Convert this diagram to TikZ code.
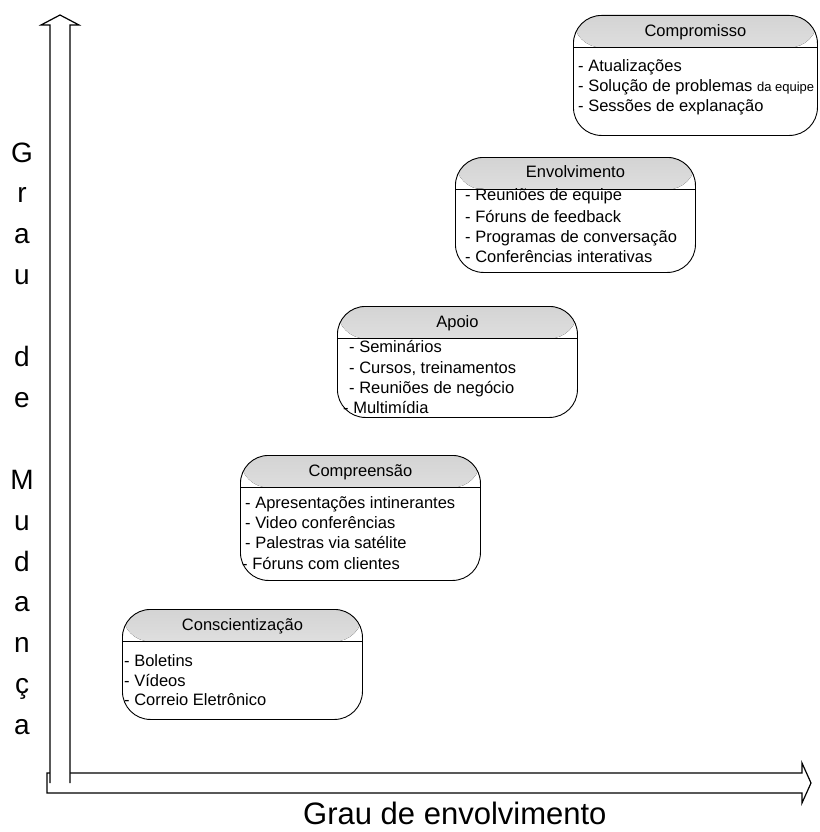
\documentclass[tikz,border=0pt]{standalone}
\usepackage{fontspec}
\setmainfont{Liberation Sans}
\begin{document}
\begin{tikzpicture}[x=1pt,y=-1pt,
  box/.style={draw, line width=0.9pt, rounded corners=28pt, minimum width=240pt, anchor=north west, inner sep=0pt,
    path picture={\fill[top color=black!17, bottom color=black!2] (path picture bounding box.north west) rectangle ([yshift=-32pt]path picture bounding box.north east);
      \draw[line width=0.9pt] ([yshift=-32pt]path picture bounding box.north west) -- ([yshift=-32pt]path picture bounding box.north east);}},
  ttl/.style={font=\fontsize{16.5}{20}\selectfont, anchor=base, inner sep=0pt},
  itm/.style={font=\fontsize{16.5}{20}\selectfont, anchor=base west, inner sep=0pt},
  axisline/.style={line width=1.2pt},
  vl/.style={font=\fontsize{28}{28}\selectfont, anchor=base, inner sep=0pt}]
\useasboundingbox (0,0) rectangle (819,832);

% horizontal axis arrow
\draw[axisline, fill=white] (47,773) -- (802,773) -- (802,763) -- (811,783) -- (802,803) -- (802,793) -- (47,793) -- cycle;
% vertical axis arrow
\fill[white] (50,783) -- (50,25) -- (41,25) -- (60,15) -- (79,25) -- (70,25) -- (70,783) -- cycle;
\draw[axisline] (50,783) -- (50,25) -- (41,25) -- (60,15) -- (79,25) -- (70,25) -- (70,783);

% boxes
\node[box, minimum height=110pt] (b1) at (122,609) {};
\node[box, minimum height=125pt] (b2) at (240,455) {};
\node[box, minimum height=111pt] (b3) at (337,306) {};
\node[box, minimum height=115pt] (b4) at (455,157) {};
\node[box, minimum width=244pt, minimum height=120pt] (b5) at (573,15) {};

% titles
\node[ttl] (t1) at ([yshift=-21pt]b1.north) {Conscientização};
\node[ttl] (t2) at ([yshift=-21pt]b2.north) {Compreensão};
\node[ttl] (t3) at ([yshift=-21pt]b3.north) {Apoio};
\node[ttl] (t4) at ([yshift=-20pt]b4.north) {Envolvimento};
\node[ttl] (t5) at ([yshift=-22pt]b5.north) {Compromisso};

% items box 1
\node[itm] (i11) at (124,666) {- Boletins};
\node[itm] (i12) at (124,686) {- Vídeos};
\node[itm] (i13) at (124,705) {- Correio Eletrônico};
% items box 2
\node[itm] (i21) at (245,508) {- Apresentações intinerantes};
\node[itm] (i22) at (245,528) {- Video conferências};
\node[itm] (i23) at (245,548) {- Palestras via satélite};
\node[itm] (i24) at (242,569) {- Fóruns com clientes};
% items box 3
\node[itm] (i31) at (349,352) {- Seminários};
\node[itm] (i32) at (349,373) {- Cursos, treinamentos};
\node[itm] (i33) at (349,393) {- Reuniões de negócio};
\node[itm] (i34) at (343,413) {- Multimídia};
% items box 4
\node[itm] (i41) at (465,200) {- Reuniões de equipe};
\node[itm] (i42) at (465,222) {- Fóruns de feedback};
\node[itm] (i43) at (465,242) {- Programas de conversação};
\node[itm] (i44) at (465,262) {- Conferências interativas};
% items box 5
\node[itm] (i51) at (578,72) {- Atualizações};
\node[itm] (i52) at (578,92) {- Solução de problemas {\fontsize{13}{16}\selectfont da equipe}};
\node[itm] (i53) at (578,112) {- Sessões de explanação};

% vertical axis label
\node[vl] (v1) at (22,162.0) {G};
\node[vl] (v2) at (22,202.9) {r};
\node[vl] (v3) at (22,243.8) {a};
\node[vl] (v4) at (22,284.7) {u};
\node[vl] (v5) at (22,366.5) {d};
\node[vl] (v6) at (22,407.4) {e};
\node[vl] (v7) at (22,489.2) {M};
\node[vl] (v8) at (22,530.1) {u};
\node[vl] (v9) at (22,571.0) {d};
\node[vl] (v10) at (22,611.9) {a};
\node[vl] (v11) at (22,652.8) {n};
\node[vl] (v12) at (22,693.7) {ç};
\node[vl] (v13) at (22,734.6) {a};

% horizontal axis label
\node[font=\fontsize{31}{31}\selectfont, anchor=base west, inner sep=0pt] (xl) at (303,824) {Grau de envolvimento};
\end{tikzpicture}
\end{document}
